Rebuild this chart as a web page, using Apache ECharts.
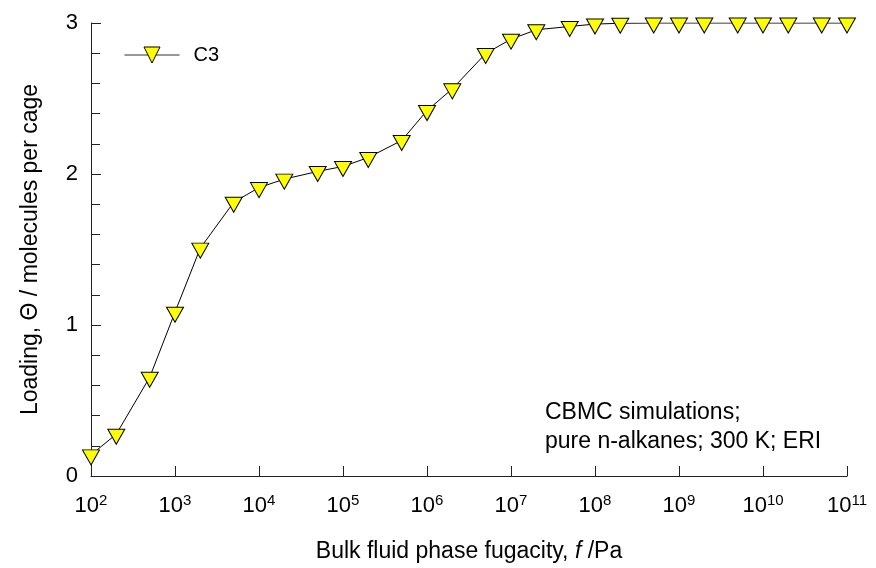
<!DOCTYPE html>
<html><head><meta charset="utf-8">
<script src="https://cdn.jsdelivr.net/npm/echarts@6/dist/echarts.min.js"></script>
<style>html,body{margin:0;padding:0;background:#fff}#c{width:876px;height:568px}</style>
</head><body><div id="c"></div>
<script>
const fugacity = [1e2,2e2,5e2,1e3,2e3,5e3,1e4,2e4,5e4,1e5,2e5,5e5,1e6,2e6,5e6,1e7,2e7,5e7,1e8,2e8,5e8,1e9,2e9,5e9,1e10,2e10,5e10,1e11];
const loadingC3 = [0.14,0.277,0.654,1.085,1.509,1.813,1.91,1.966,2.017,2.05,2.109,2.222,2.42,2.564,2.798,2.893,2.955,2.977,2.993,2.998,3.0,3.0,3.0,3.0,3.0,3.0,3.0,3.0];
const xTickExponents = [2,3,4,5,6,7,8,9,10,11];
const yTicks = [0,1,2,3];
const seriesName = 'C3';
const noteLines = ['CBMC simulations;', 'pure n-alkanes; 300 K; ERI'];

const FONT = '"Liberation Sans", Arial, sans-serif';
const chart = echarts.init(document.getElementById('c'));
chart.setOption({
  animation: false,
  backgroundColor: '#fff',
  grid: {left: 91, right: 29, top: 23, bottom: 92, containLabel: false},
  legend: {
    left: 124, top: 45, padding: 0,
    itemWidth: 55, itemHeight: 20,
    data: [seriesName],
    lineStyle: {width: 1, color: '#333'},
    itemStyle: {borderWidth: 1, borderColor: '#000'},
    textStyle: {fontFamily: FONT, fontSize: 20, color: '#000', padding: [0,0,0,9]}
  },
  xAxis: {
    type: 'log', logBase: 10, min: 1e2, max: 1e11,
    name: 'Bulk fluid phase fugacity, {i|f} /Pa',
    nameLocation: 'middle', nameGap: 64,
    nameTextStyle: {fontFamily: FONT, fontSize: 23, color: '#000',
      rich: {i: {fontFamily: FONT, fontSize: 23, fontStyle: 'italic', color: '#000'}}},
    axisLine: {lineStyle: {color: '#222', width: 1}},
    axisTick: {inside: true, length: 10, lineStyle: {color: '#222'}},
    minorTick: {show: false},
    splitLine: {show: false},
    axisLabel: {
      margin: 17,
      formatter: function (v) {
        const e = Math.round(Math.log10(v));
        return xTickExponents.indexOf(e) >= 0 ? '{b|10}{s|' + e + '}' : '';
      },
      rich: {
        b: {fontFamily: FONT, fontSize: 22, color: '#000', verticalAlign: 'bottom', lineHeight: 24},
        s: {fontFamily: FONT, fontSize: 15, color: '#000', verticalAlign: 'top', padding: [0,0,8,0], lineHeight: 24}
      }
    }
  },
  yAxis: {
    type: 'value', min: 0, max: 3, interval: 1,
    name: 'Loading, Θ / molecules per cage',
    nameLocation: 'middle', nameGap: 49,
    nameTextStyle: {fontFamily: FONT, fontSize: 23, color: '#000'},
    axisLine: {show: true, lineStyle: {color: '#222', width: 1}},
    axisTick: {show: true, inside: true, length: 10, lineStyle: {color: '#222'}},
    minorTick: {show: true, splitNumber: 5, length: 9, lineStyle: {color: '#222'}},
    splitLine: {show: false},
    axisLabel: {margin: 13, fontFamily: FONT, fontSize: 22, color: '#000',
      formatter: function (v) { return yTicks.indexOf(v) >= 0 ? String(v) : ''; }}
  },
  graphic: [{
    type: 'text', left: 545, top: 398,
    style: {text: noteLines.join('\n'), font: '23px ' + FONT, fill: '#000', lineHeight: 29}
  }],
  series: [{
    name: seriesName,
    type: 'line',
    data: fugacity.map((f, i) => [f, loadingC3[i]]),
    symbol: 'triangle', symbolRotate: 180, symbolSize: [17, 15], symbolOffset: [0, 2.5],
    showAllSymbol: true,
    lineStyle: {color: '#000', width: 1},
    itemStyle: {color: '#ffff00', borderColor: '#000', borderWidth: 1},
    z: 3
  }]
});
</script></body></html>
